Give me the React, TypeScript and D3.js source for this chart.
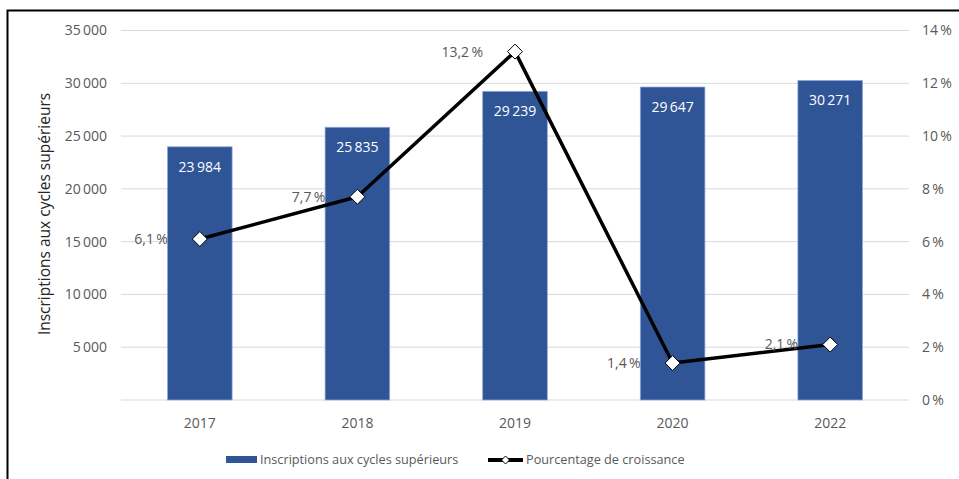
import React from "react";
import * as d3 from "d3";

const years = ["2017", "2018", "2019", "2020", "2022"];
const inscriptions = [23984, 25835, 29239, 29647, 30271];
const croissance = [6.1, 7.7, 13.2, 1.4, 2.1];
const leftTicks = [0, 5000, 10000, 15000, 20000, 25000, 30000, 35000];
const rightTicks = [0, 2, 4, 6, 8, 10, 12, 14];

const W = 959;
const H = 479;
const FONT = "'Open Sans', 'Noto Sans', sans-serif";
const BAR = "#2F5597";
const TXT = "#595959";

const fmtNum = (v: number) => {
  const s = String(v);
  return s.length > 3 ? s.slice(0, -3) + "\u2009" + s.slice(-3) : s;
};
const fmtPct = (v: number) => v.toFixed(1).replace(".", ",") + "\u2009%";

export default function App() {
  const x = d3.scaleBand<string>().domain(years).range([121, 909]).paddingInner(0.59).paddingOuter(0.295);
  const y = d3.scaleLinear().domain([0, 35000]).range([400, 30.5]);
  const y2 = d3.scaleLinear().domain([0, 14]).range([400, 30.5]);
  const cx = (d: string) => (x(d) as number) + x.bandwidth() / 2;
  const line = d3
    .line<number>()
    .x((_, i) => cx(years[i]))
    .y((v) => y2(v));
  const diamond = (px: number, py: number, r: number) =>
    `M${px},${py - r}L${px + r},${py}L${px},${py + r}L${px - r},${py}Z`;

  return (
    <svg
      width={W}
      height={H}
      style={{ position: "fixed", left: 0, top: 0, background: "#fff" }}
      fontFamily={FONT}
    >
      <rect x={0} y={0} width={W} height={H} fill="#fff" />
      <path d={`M7.5,${H}V10.5H${W}`} fill="none" stroke="#000" strokeWidth={2} />

      {/* gridlines */}
      {leftTicks.map((t) => (
        <line key={t} x1={121} x2={909} y1={y(t)} y2={y(t)} stroke="#D9D9D9" strokeWidth={1} />
      ))}

      {/* left ticks */}
      {leftTicks.filter((t) => t > 0).map((t) => (
        <text key={t} x={107} y={y(t)} dy="0.35em" textAnchor="end" fontSize={14} fill={TXT}>
          {fmtNum(t)}
        </text>
      ))}
      {/* right ticks */}
      {rightTicks.map((t) => (
        <text key={t} x={922} y={y2(t)} dy="0.35em" textAnchor="start" fontSize={14} fill={TXT}>
          {t + "\u2009%"}
        </text>
      ))}

      {/* y title */}
      <text
        transform={`translate(50,${214}) rotate(-90)`}
        textAnchor="middle"
        fontSize={15.5}
        fill="#262626"
      >
        Inscriptions aux cycles supérieurs
      </text>

      {/* bars */}
      {years.map((yr, i) => (
        <g key={yr}>
          <rect
            x={x(yr)}
            y={y(inscriptions[i])}
            width={x.bandwidth()}
            height={y(0) - y(inscriptions[i])}
            fill={BAR}
            stroke="#8FAADC"
            strokeWidth={0.75}
          />
          <text
            x={cx(yr)}
            y={y(inscriptions[i]) + 20}
            dy="0.35em"
            textAnchor="middle"
            fontSize={14}
            fill="#fff"
          >
            {fmtNum(inscriptions[i])}
          </text>
          <text x={cx(yr)} y={423} dy="0.35em" textAnchor="middle" fontSize={14} fill={TXT}>
            {yr}
          </text>
        </g>
      ))}

      {/* line */}
      <path d={line(croissance) as string} fill="none" stroke="#000" strokeWidth={3.5} strokeLinejoin="round" />
      {years.map((yr, i) => (
        <g key={yr}>
          <path d={diamond(cx(yr), y2(croissance[i]), 7.5)} fill="#fff" stroke="#000" strokeWidth={1} />
          <text
            x={cx(yr) - 32}
            y={y2(croissance[i])}
            dy="0.35em"
            textAnchor="end"
            fontSize={14}
            fill={TXT}
          >
            {fmtPct(croissance[i])}
          </text>
        </g>
      ))}

      {/* legend */}
      <rect x={226} y={456} width={31} height={7} fill={BAR} />
      <text x={260} y={460} dy="0.35em" fontSize={12.7} fill={TXT}>
        Inscriptions aux cycles supérieurs
      </text>
      <line x1={488} x2={523} y1={460} y2={460} stroke="#000" strokeWidth={4} />
      <path d={diamond(505.5, 460, 4)} fill="#fff" stroke="#000" strokeWidth={1} />
      <text x={526} y={460} dy="0.35em" fontSize={12.7} fill={TXT}>
        Pourcentage de croissance
      </text>
    </svg>
  );
}
